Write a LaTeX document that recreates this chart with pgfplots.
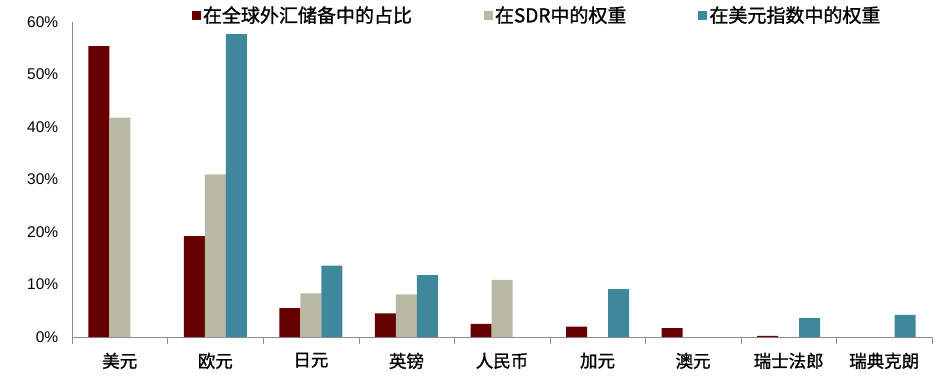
\documentclass[border=0pt]{standalone}
\usepackage{pgfplots}
\pgfplotsset{compat=1.18}
\usepackage{fontspec}
\setmainfont{Liberation Sans}
\newfontfamily\cjk[FakeBold=1.2]{Noto Sans CJK SC}
\definecolor{cRed}{HTML}{660000}
\definecolor{cGrey}{HTML}{B9B8A6}
\definecolor{cBlue}{HTML}{3F889C}
\begin{document}
\begin{tikzpicture}[x=1pt,y=1pt]
\begin{axis}[
  scale only axis,
  width=860pt, height=315pt,
  xmin=-0.5, xmax=8.5, ymin=0, ymax=60,
  axis lines=left,
  axis line style={-, draw=gray!90},
  ybar=0pt, bar width=21pt,
  xtick={0,...,8},
  xticklabels={美元,欧元,日元,英镑,人民币,加元,澳元,瑞士法郎,瑞典克朗},
  xticklabel style={font=\cjk\fontsize{17.5}{20}\selectfont, yshift=-8pt},
  major x tick style={draw=none},
  minor xtick={-0.5,0.5,...,8.5},
  minor tick length=7pt,
  minor x tick style={draw=gray!90},
  tick align=outside,
  ytick={0,10,...,60},
  ytick style={draw=none},
  yticklabel={\pgfmathprintnumber{\tick}\%},
  yticklabel style={font=\fontsize{15.5}{18}\selectfont, xshift=-6pt},
  /pgf/number format/assume math mode=true,
  legend columns=3,
  legend style={draw=none, fill=none, at={(0.1395,1.022)}, anchor=west,
    inner sep=0pt, outer sep=0pt,
    font=\cjk\fontsize{19}{22}\selectfont,
    /tikz/every even column/.append style={column sep=70pt},
    nodes={inner sep=2pt}},
  legend image code/.code={\fill[#1] (0pt,-4.5pt) rectangle (9pt,4.5pt);},
]
\addplot[fill=cRed, draw=none] coordinates {(0,55.4) (1,19.2) (2,5.5) (3,4.5) (4,2.5) (5,2.0) (6,1.7) (7,0.2)};
\addplot[fill=cGrey, draw=none] coordinates {(0,41.8) (1,31.0) (2,8.3) (3,8.1) (4,10.9)};
\addplot[fill=cBlue, draw=none] coordinates {(1,57.7) (2,13.6) (3,11.8) (5,9.1) (7,3.6) (8,4.2)};
\legend{在全球外汇储备中的占比,在SDR中的权重,在美元指数中的权重}
\end{axis}
\path (current axis.south west) ++(-72pt,-41pt) rectangle ++(940pt,378pt);
\end{tikzpicture}
\end{document}
